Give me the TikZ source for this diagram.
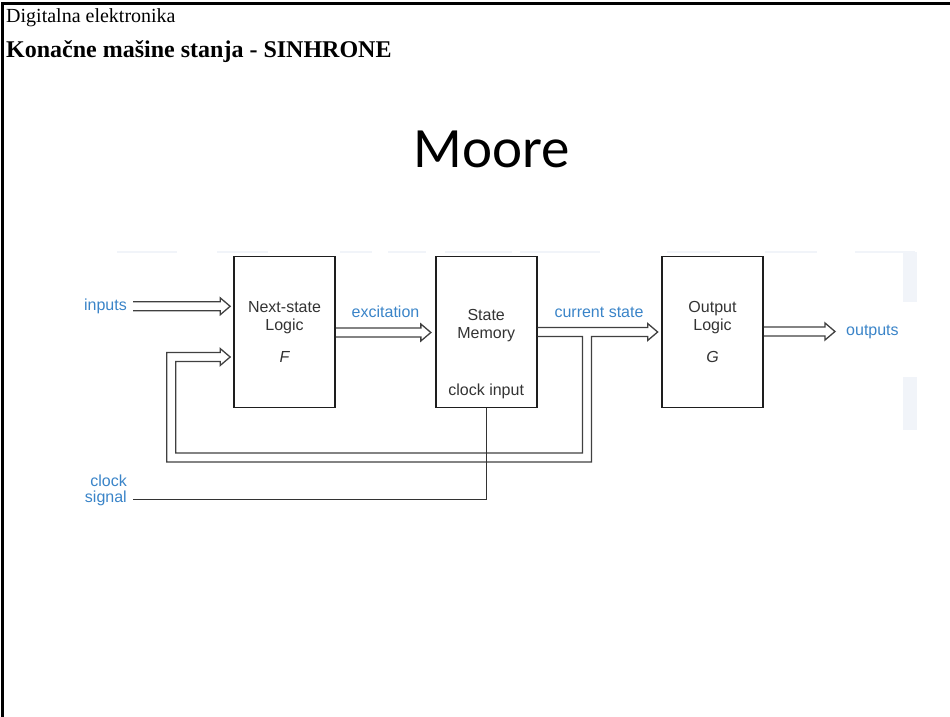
\documentclass[tikz,border=0pt]{standalone}
\usepackage{fontspec}
\setmainfont{Liberation Serif}
\newfontfamily\diagfont{Liberation Sans}
\newfontfamily\titlefont{Carlito}
\usetikzlibrary{calc}

\definecolor{sigblue}{RGB}{58,132,200}
\definecolor{wirecol}{RGB}{64,64,64}
\definecolor{boxcol}{RGB}{30,30,30}
\definecolor{ghost}{RGB}{241,244,249}

\tikzset{
  block/.style={draw=boxcol, line width=1.7pt, minimum width=101pt,
    minimum height=151pt, inner sep=0pt},
  intext/.style={font=\diagfont\fontsize{16}{17.4}\selectfont, text=black!80,
    anchor=base, inner sep=0pt},
  sig/.style={font=\diagfont\fontsize{16}{16.5}\selectfont, text=sigblue,
    inner sep=0pt},
  wire/.style={draw=wirecol, line width=1.3pt, line join=miter},
  clkwire/.style={draw=black!80, line width=1.3pt},
  ghostline/.style={draw=ghost, line width=2pt},
}

% hollow bus arrow: from the x of #1 to the tip #2, at the height of #2
\newcommand\busarrow[2]{%
  \draw[wire] let \p1=#1, \p2=#2 in
    (\x1,\y2+4.5pt) -- (\x2-10pt,\y2+4.5pt) -- (\x2-10pt,\y2+8.5pt)
    -- (\x2,\y2) -- (\x2-10pt,\y2-8.5pt) -- (\x2-10pt,\y2-4.5pt)
    -- (\x1,\y2-4.5pt);}

\begin{document}
\begin{tikzpicture}[x=1pt,y=-1pt]
\useasboundingbox (0,0) rectangle (950,717);

% slide frame
\draw[line width=2.6pt] (2.5,717) -- (2.5,3.3) -- (950,3.3);

% headings
\node[anchor=base west, inner sep=0pt, font=\fontsize{20}{24}\selectfont]
  (hdA) at (6,22.5) {Digitalna elektronika};
\node[anchor=base west, inner sep=0pt, font=\bfseries\fontsize{24}{28}\selectfont]
  (hdB) at (6,57.5) {Konačne mašine stanja - SINHRONE};
\node[anchor=base, inner sep=0pt, font=\titlefont\fontsize{57}{62}\selectfont]
  (ttl) at (491.5,167.5) {Moore};

% faint traces behind the diagram
\foreach \a/\b in {117/177,217/268,340/372,388/426,445/512,520/600,667/720,765/817,855/915}
  \draw[ghostline] (\a,252) -- (\b,252);
\fill[ghost] (903,252) rectangle (917,302);
\fill[ghost] (903,377) rectangle (917,430);

% blocks
\node[block] (ns) at (284.5,332) {};
\node[block] (sm) at (486.2,332) {};
\node[block] (ol) at (712.5,332) {};

\node[intext] (nsA) at ($(ns.north)+(0,57)$) {Next-state};
\node[intext] (nsB) at ($(ns.north)+(0,74.5)$) {Logic};
\node[intext] (nsF) at ($(ns.north)+(0,106.5)$) {\itshape F};

\node[intext] (smA) at ($(sm.north)+(0,65.2)$) {State};
\node[intext] (smB) at ($(sm.north)+(0,82.8)$) {Memory};
\node[intext] (smC) at ($(sm.north)+(0,140.2)$) {clock input};

\node[intext] (olA) at ($(ol.north)+(0,57)$) {Output};
\node[intext] (olB) at ($(ol.north)+(0,74.5)$) {Logic};
\node[intext] (olG) at ($(ol.north)+(0,106.5)$) {\itshape G};

% signal labels
\node[sig, anchor=base east] (in) at (127,310) {inputs};
\node[sig, anchor=base] (ex) at (385.5,317.3) {excitation};
\node[sig, anchor=base] (cs) at (599,317.3) {current state};
\node[sig, anchor=west] (out) at (846,331.5) {outputs};
\node[sig, anchor=base east, align=right] (clk) at (127,502.5) {clock\\signal};

% feedback corners (centre line of the bus)
\coordinate (fbR) at (587,457.5);
\coordinate (fbL) at (171.3,457.5);

% buses
\busarrow{($(in.east)+(6,0)$)}{($(ns.west)+(-3,-25.7)$)}
\busarrow{(ns.east)}{($(sm.west)+(-4,0.5)$)}
\busarrow{(ol.east)}{($(out.west)+(-11,0)$)}

% current state bus with its feedback loop into the next-state logic
\draw[wire] let \p1=(sm.east), \p2=(ol.west), \p3=(ns.west), \p4=(fbR), \p5=(fbL) in
  (\x1,\y1-4.5pt) -- (\x4-4.5pt,\y1-4.5pt) -- (\x4-4.5pt,\y4+4.5pt)
  -- (\x5+4.5pt,\y4+4.5pt) -- (\x5+4.5pt,\y3-29.5pt) -- (\x3-13pt,\y3-29.5pt)
  -- (\x3-13pt,\y3-33.5pt) -- (\x3-3pt,\y3-25pt) -- (\x3-13pt,\y3-16.5pt)
  -- (\x3-13pt,\y3-20.5pt) -- (\x5-4.5pt,\y3-20.5pt) -- (\x5-4.5pt,\y4-4.5pt)
  -- (\x4+4.5pt,\y4-4.5pt) -- (\x4+4.5pt,\y1-4.5pt) -- (\x2-13.5pt,\y1-4.5pt)
  -- (\x2-13.5pt,\y1-8.5pt) -- (\x2-3.5pt,\y1) -- (\x2-13.5pt,\y1+8.5pt)
  -- (\x2-13.5pt,\y1+4.5pt) -- (\x1,\y1+4.5pt);

% clock line
\draw[clkwire] ($(clk.base east)+(6.3,-3.2)$) -| (sm.south);
\end{tikzpicture}
\end{document}
